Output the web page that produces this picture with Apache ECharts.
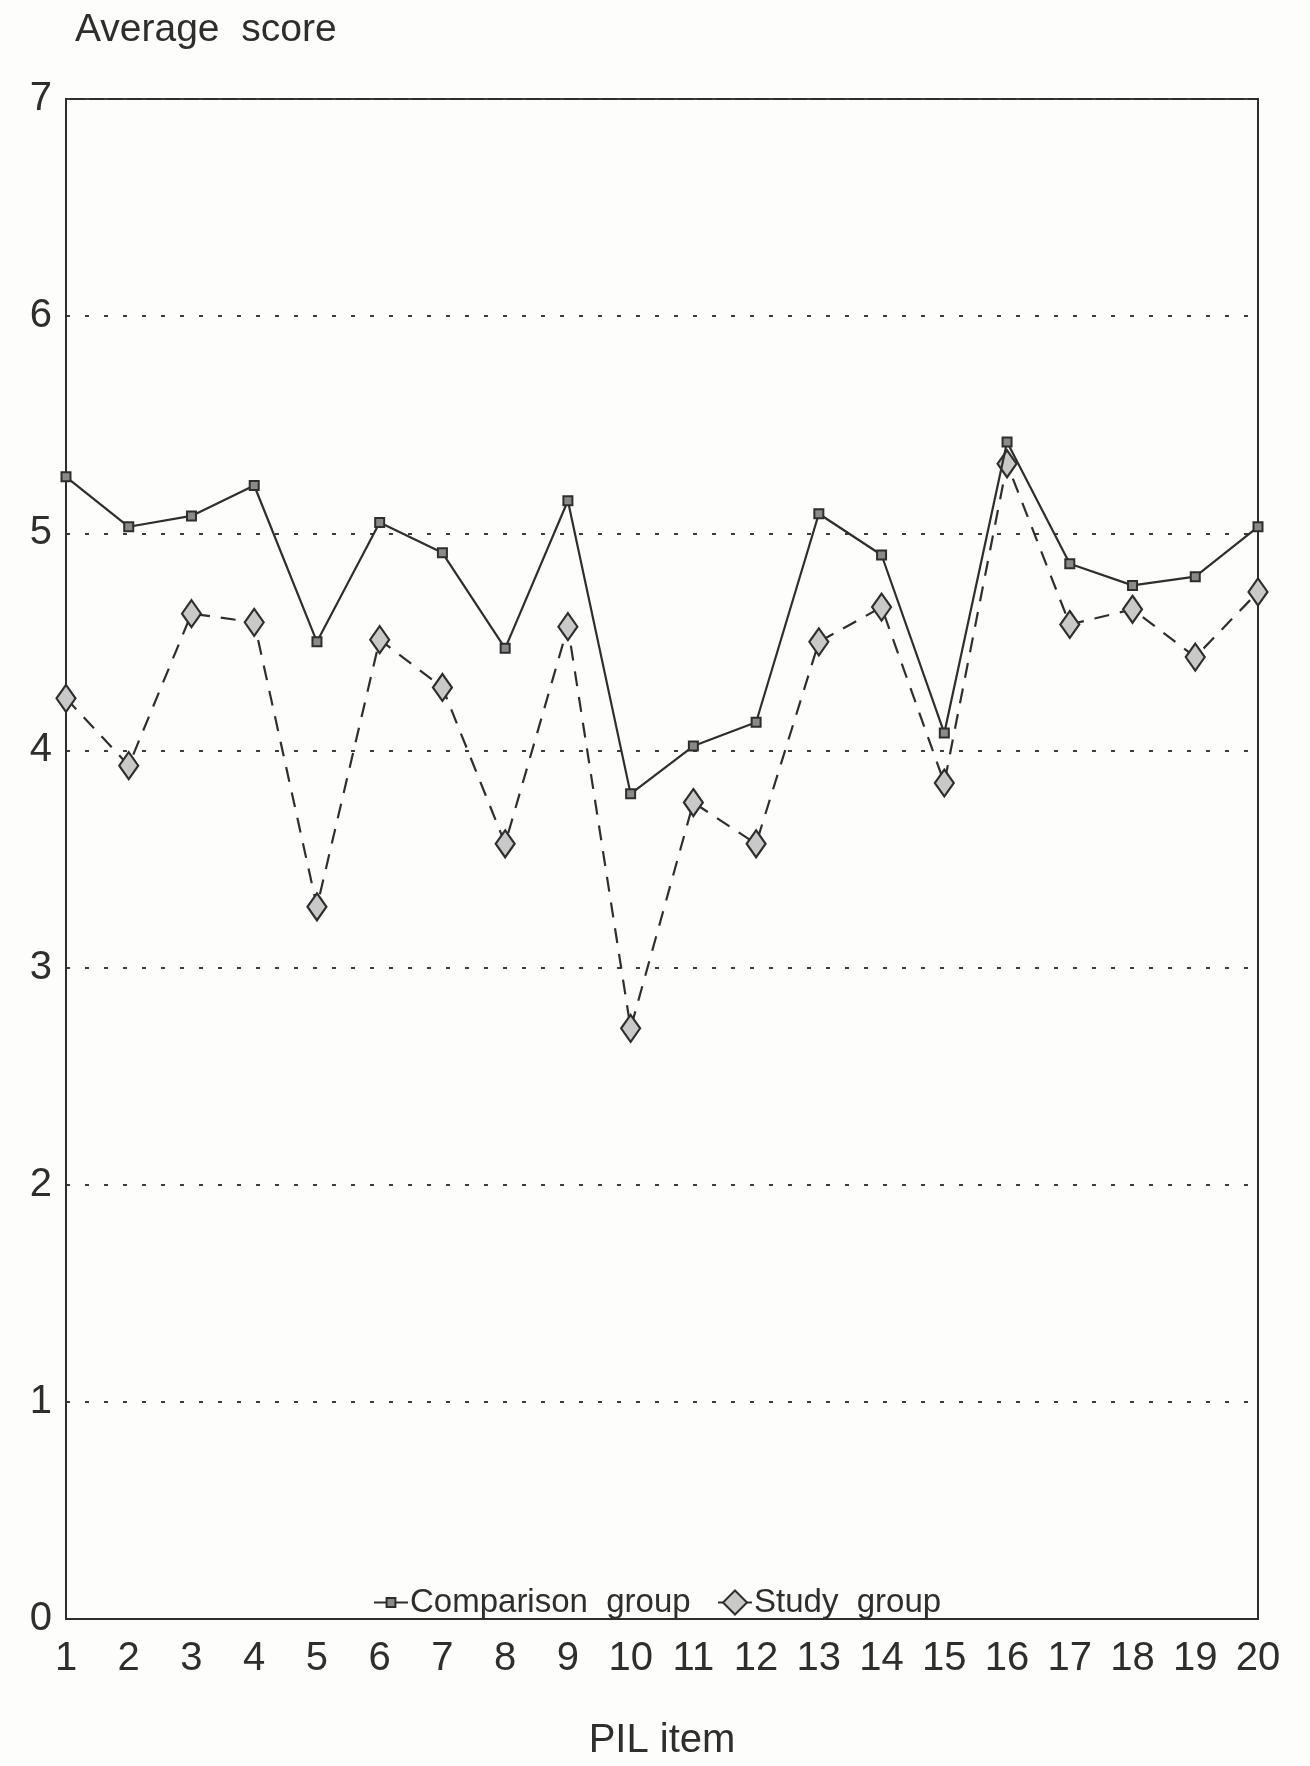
<!DOCTYPE html>
<html>
<head>
<meta charset="utf-8">
<script src="https://cdn.jsdelivr.net/npm/echarts@6/dist/echarts.min.js"></script>
<style>
  html, body { margin: 0; padding: 0; background: #fdfdfb; }
  #chart { width: 1310px; height: 1766px; }
</style>
</head>
<body>
<div id="chart"></div>
<script>
const categories = ['1','2','3','4','5','6','7','8','9','10','11','12','13','14','15','16','17','18','19','20'];
const comparisonGroup = [5.26, 5.03, 5.08, 5.22, 4.50, 5.05, 4.91, 4.47, 5.15, 3.80, 4.02, 4.13, 5.09, 4.90, 4.08, 5.42, 4.86, 4.76, 4.80, 5.03];
const studyGroup = [4.24, 3.93, 4.63, 4.59, 3.28, 4.51, 4.29, 3.57, 4.57, 2.72, 3.76, 3.57, 4.50, 4.66, 3.85, 5.32, 4.58, 4.65, 4.43, 4.73];
const yTicks = [0, 1, 2, 3, 4, 5, 6, 7];

const ink = '#2e2e2e';
const font = "'Liberation Sans', Arial, Helvetica, sans-serif";

const chart = echarts.init(document.getElementById('chart'), null, { renderer: 'canvas' });
chart.setOption({
  backgroundColor: '#fdfdfb',
  animation: false,
  title: {
    text: 'Average  score',
    left: 70,
    top: 6,
    textStyle: { fontFamily: font, fontSize: 39, fontWeight: 'normal', color: ink }
  },
  legend: [
    {
      left: 368,
      top: 1581,
      itemWidth: 34,
      itemHeight: 11,
      textStyle: { fontFamily: font, fontSize: 33, color: ink, padding: [2, 0, 0, -3] },
      data: ['Comparison  group']
    },
    {
      left: 712,
      top: 1581,
      itemWidth: 34,
      itemHeight: 30,
      textStyle: { fontFamily: font, fontSize: 33, color: ink, padding: [2, 0, 0, -3] },
      data: ['Study  group']
    }
  ],
  grid: {
    left: 66,
    right: 52,
    top: 99,
    bottom: 139,
    show: true,
    borderColor: ink,
    borderWidth: 2,
    backgroundColor: 'transparent'
  },
  xAxis: {
    type: 'category',
    data: categories,
    boundaryGap: false,
    name: 'PIL item',
    nameLocation: 'middle',
    nameGap: 102,
    nameTextStyle: { fontFamily: font, fontSize: 40, color: ink },
    axisLine: { show: true, lineStyle: { color: ink, width: 2 } },
    axisTick: { show: false },
    axisLabel: { fontFamily: font, fontSize: 40, color: ink, margin: 20 },
    splitLine: { show: false }
  },
  yAxis: {
    type: 'value',
    min: yTicks[0],
    max: yTicks[yTicks.length - 1],
    interval: 1,
    axisLine: { show: true, lineStyle: { color: ink, width: 2 } },
    axisTick: { show: false },
    axisLabel: { fontFamily: font, fontSize: 40, color: ink, margin: 14 },
    splitLine: { show: true, lineStyle: { color: '#3c3c3c', width: 2, type: [4, 15] } }
  },
  series: [
    {
      name: 'Comparison  group',
      type: 'line',
      data: comparisonGroup,
      symbol: 'rect',
      symbolSize: 9,
      lineStyle: { color: ink, width: 2.2, type: 'solid' },
      itemStyle: { color: '#8a8a8a', borderColor: ink, borderWidth: 2 },
      z: 3
    },
    {
      name: 'Study  group',
      type: 'line',
      data: studyGroup,
      symbol: 'diamond',
      symbolSize: [19, 27],
      lineStyle: { color: ink, width: 2.2, type: [15, 11] },
      itemStyle: { color: '#c9c9c9', borderColor: ink, borderWidth: 2.2 },
      z: 2
    }
  ]
});
</script>
</body>
</html>
